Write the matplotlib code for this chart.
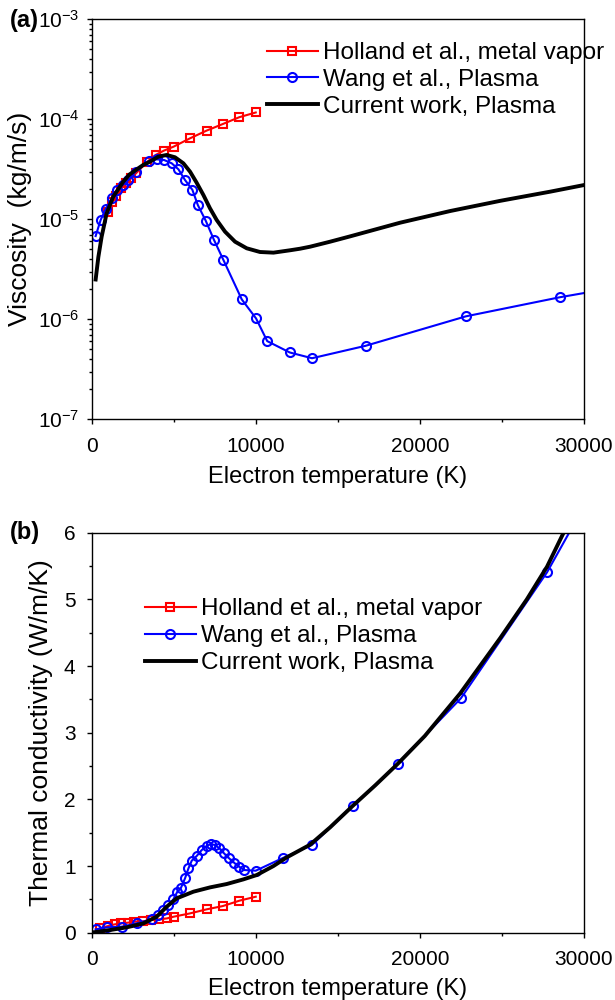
import matplotlib
matplotlib.use("Agg")
import matplotlib.pyplot as plt
from matplotlib.ticker import MultipleLocator, LogLocator, NullFormatter

plt.rcParams['font.family'] = ['Liberation Sans', 'DejaVu Sans']
plt.rcParams['mathtext.fontset'] = 'custom'
plt.rcParams['mathtext.rm'] = 'Liberation Sans'
plt.rcParams['font.size'] = 15

# (a) viscosity
hol_T_a = [1000, 1250, 1500, 1800, 2100, 2400, 2700, 3400, 3900, 4400, 5000,
           6000, 7000, 8000, 9000, 10000]
hol_visc = [1.19e-5, 1.48e-5, 1.71e-5, 2.04e-5, 2.29e-5, 2.57e-5, 2.88e-5, 3.77e-5,
            4.4e-5, 4.86e-5, 5.33e-5, 6.46e-5, 7.7e-5, 8.98e-5, 1.05e-4, 1.17e-4]

wang_T_a = [244, 550, 850, 1260, 1565, 1890, 2240, 2680, 3500, 3960, 4410, 4880,
            5290, 5690, 6140, 6470, 6950, 7460, 8030, 9150, 10020, 10700, 12070,
            13430, 16690, 22800, 28520, 30000]
wang_visc = [6.8e-6, 9.85e-6, 1.26e-5, 1.65e-5, 1.97e-5, 2.2e-5, 2.47e-5, 3.0e-5,
             3.83e-5, 3.98e-5, 3.92e-5, 3.63e-5, 3.16e-5, 2.47e-5, 1.97e-5, 1.39e-5,
             9.7e-6, 6.2e-6, 3.92e-6, 1.58e-6, 1.02e-6, 6.05e-7, 4.66e-7, 4.08e-7,
             5.43e-7, 1.07e-6, 1.66e-6, 1.83e-6]

cur_T_a = [244, 410, 610, 915, 1320, 1930, 2300, 2750, 3150, 3555, 4060, 4570, 5080,
           5590, 6000, 6400, 6810, 7210, 7620, 8130, 8740, 9450, 10260, 11080, 12090,
           12700, 13310, 14530, 15750, 18800, 21850, 24900, 27950, 30000]
cur_visc = [2.5e-6, 4.2e-6, 6.7e-6, 1.15e-5, 1.69e-5, 2.38e-5, 2.8e-5, 3.16e-5, 3.5e-5,
            3.77e-5, 4.23e-5, 4.4e-5, 4.17e-5, 3.63e-5, 2.99e-5, 2.32e-5, 1.75e-5,
            1.29e-5, 9.84e-6, 7.52e-6, 5.97e-6, 5.13e-6, 4.71e-6, 4.64e-6, 4.90e-6,
            5.08e-6, 5.32e-6, 5.97e-6, 6.75e-6, 9.25e-6, 1.21e-5, 1.53e-5, 1.89e-5, 2.2e-5]

# (b) thermal conductivity
hol_T_b = [500, 1000, 1400, 1800, 2200, 2600, 3100, 3600, 4100, 4600, 5000,
           6000, 7000, 8000, 9000, 10000]
hol_k = [0.065, 0.10, 0.125, 0.14, 0.15, 0.165, 0.17, 0.19, 0.20, 0.215, 0.24,
         0.29, 0.35, 0.40, 0.48, 0.54]

wang_T_b = [244, 915, 1830, 2745, 3660, 4070, 4370, 4680, 4980, 5225, 5430, 5690,
            5900, 6100, 6400, 6710, 7010, 7260, 7520, 7790, 8070, 8380, 8680, 8990,
            9290, 10000, 11690, 13420, 15920, 18640, 22500, 27750, 29100]
wang_k = [0.05, 0.08, 0.09, 0.14, 0.20, 0.265, 0.34, 0.415, 0.50, 0.615, 0.665,
          0.815, 0.965, 1.08, 1.15, 1.24, 1.30, 1.33, 1.315, 1.265, 1.19, 1.115,
          1.05, 0.99, 0.94, 0.93, 1.125, 1.315, 1.90, 2.53, 3.516, 5.406, 6.0]

cur_T_b = [100, 1120, 2135, 3150, 3965, 4575, 5185, 6200, 7220, 8230, 9250, 10060,
           11080, 11890, 13310, 14530, 15900, 17280, 18640, 20300, 22460, 24900,
           26520, 27750, 28760]
cur_k = [0.005, 0.04, 0.08, 0.14, 0.24, 0.39, 0.515, 0.615, 0.68, 0.73, 0.80, 0.865,
         1.0, 1.13, 1.32, 1.58, 1.9, 2.21, 2.53, 2.95, 3.59, 4.42, 5.0, 5.49, 6.0]

fig = plt.figure(figsize=(6.15, 10), dpi=100)
ax1 = fig.add_axes([0.149, 0.5807, 0.8005, 0.4])
ax2 = fig.add_axes([0.149, 0.0673, 0.8005, 0.4])

sq = dict(markersize=5.5, markerfacecolor='none', markeredgewidth=1.5)
ci = dict(markersize=6.5, markerfacecolor='none', markeredgewidth=1.5)
leg = dict(frameon=False, fontsize=17.5, handlelength=2.1, handletextpad=0.2,
           labelspacing=0.2, borderpad=0, borderaxespad=0, loc='upper left')

ax1.plot(hol_T_a, hol_visc, color='red', marker='s', lw=1.5, label='Holland et al., metal vapor', **sq)
ax1.plot(wang_T_a, wang_visc, color='blue', marker='o', lw=1.5, markevery=list(range(len(wang_T_a) - 1)),
         label='Wang et al., Plasma', **ci)
ax1.plot(cur_T_a, cur_visc, color='black', lw=2.8, label='Current work, Plasma')
ax1.set_yscale('log')
ax1.set_ylim(1e-7, 1e-3)
ax1.set_xlim(0, 30000)
ax1.set_ylabel('Viscosity  (kg/m/s)', fontsize=19, labelpad=4)
ax1.set_xlabel('Electron temperature (K)', fontsize=17, labelpad=7)
ax1.yaxis.set_major_locator(LogLocator(base=10, numticks=10))
ax1.yaxis.set_minor_locator(LogLocator(base=10, subs=range(2, 10), numticks=10))
ax1.yaxis.set_minor_formatter(NullFormatter())
ax1.tick_params(axis='y', which='major', pad=5)
ax1.legend(bbox_to_anchor=(0.356, 0.943), **leg)

ax2.plot(hol_T_b, hol_k, color='red', marker='s', lw=1.5, label='Holland et al., metal vapor', **sq)
ax2.plot(wang_T_b, wang_k, color='blue', marker='o', lw=1.5, markevery=list(range(len(wang_T_b) - 1)),
         label='Wang et al., Plasma', **ci)
ax2.plot(cur_T_b, cur_k, color='black', lw=2.8, label='Current work, Plasma')
ax2.set_ylim(0, 6)
ax2.set_xlim(0, 30000)
ax2.set_ylabel('Thermal conductivity (W/m/K)', fontsize=19, labelpad=8)
ax2.set_xlabel('Electron temperature (K)', fontsize=17, labelpad=6)
ax2.yaxis.set_major_locator(MultipleLocator(1))
ax2.yaxis.set_minor_locator(MultipleLocator(0.5))
ax2.tick_params(axis='y', which='major', pad=8)
ax2.legend(bbox_to_anchor=(0.108, 0.836), **leg)

for ax in (ax1, ax2):
    ax.xaxis.set_major_locator(MultipleLocator(10000))
    ax.xaxis.set_minor_locator(MultipleLocator(5000))
    ax.tick_params(which='major', direction='out', length=3.6, width=1, labelsize=15)
    ax.tick_params(which='minor', direction='out', length=2.5, width=1)
    ax.tick_params(axis='x', which='major', pad=9)
    for s in ax.spines.values():
        s.set_linewidth(1)

fig.text(0.016, 0.979, '(a)', fontsize=17, fontweight='bold', va='center')
fig.text(0.016, 0.467, '(b)', fontsize=17, fontweight='bold', va='center')

fig.savefig('out.png', dpi=100)
